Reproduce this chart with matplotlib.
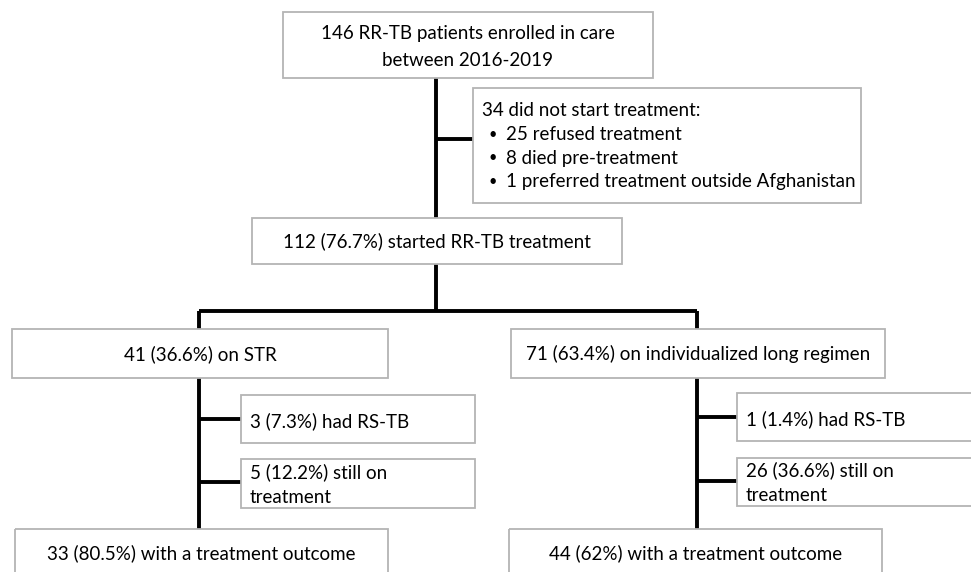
import matplotlib.pyplot as plt
from matplotlib.patches import Rectangle

# texts of the flowchart
top_text = "146 RR-TB patients enrolled in care\nbetween 2016-2019"
excl_head = "34 did not start treatment:"
excl_items = ["25 refused treatment", "8 died pre-treatment",
              "1 preferred treatment outside Afghanistan"]
started_text = "112 (76.7%) started RR-TB treatment"
arm_texts = ["41 (36.6%) on STR", "71 (63.4%) on individualized long regimen"]
rs_texts = ["3 (7.3%) had RS-TB", "1 (1.4%) had RS-TB"]
still_texts = ["5 (12.2%) still on\ntreatment", "26 (36.6%) still on\ntreatment"]
outcome_texts = ["33 (80.5%) with a treatment outcome", "44 (62%) with a treatment outcome"]

W, H = 971, 572
fig = plt.figure(figsize=(W / 100, H / 100), dpi=100)
ax = fig.add_axes([0, 0, 1, 1])
ax.set_xlim(0, W)
ax.set_ylim(H, 0)
ax.axis('off')

FONT = 'Lato'
FS = 13.5
EDGE = '#b4b4b4'
LW = 2.8


def box(x0, y0, x1, y1):
    ax.add_patch(Rectangle((x0, y0), x1 - x0, y1 - y0, fill=False,
                           edgecolor=EDGE, linewidth=1.3, zorder=2))


def line(xs, ys):
    ax.plot(xs, ys, color='black', linewidth=LW, solid_capstyle='butt', zorder=1)


# top box
box(283, 12, 653, 78)
ax.text(468, 47, top_text, ha='center', va='center', fontsize=FS, family=FONT,
        linespacing=1.75)

# main vertical
line([436, 436], [78, 218])

# exclusion box
line([436, 473], [139, 139])
box(473, 88, 861, 203)
ax.text(482, 111, excl_head, ha='left', va='center', fontsize=FS, family=FONT)
for i, item in enumerate(excl_items):
    yy = 135 + i * 23.5
    ax.text(488, yy, "•", ha='left', va='center', fontsize=FS - 3, family=FONT)
    ax.text(506, yy, item, ha='left', va='center', fontsize=FS, family=FONT)

# started box
box(252, 218, 622, 264)
ax.text(437, 241, started_text, ha='center', va='center', fontsize=FS, family=FONT)

# split
line([436, 436], [264, 311])
arm_x = [199, 697]
line([arm_x[0], arm_x[1]], [311, 311])
for x in arm_x:
    line([x, x], [311, 329])

arm_boxes = [(12, 388), (511, 885)]
sub_x = [(241, 475), (737, 972)]
rs_y = [(395, 443), (393, 441)]
still_y = [(459, 508), (458, 506)]

for k in range(2):
    x0, x1 = arm_boxes[k]
    box(x0, 329, x1, 378)
    ax.text((x0 + x1) / 2, 354, arm_texts[k], ha='center', va='center',
            fontsize=FS, family=FONT)

    x = arm_x[k]
    line([x, x], [378, 529])

    s0, s1 = sub_x[k]
    r0, r1 = rs_y[k]
    line([x, s0], [(r0 + r1) / 2, (r0 + r1) / 2])
    box(s0, r0, s1, r1)
    ax.text(s0 + 9, (r0 + r1) / 2 + 2, rs_texts[k], ha='left', va='center',
            fontsize=FS, family=FONT)

    t0, t1 = still_y[k]
    line([x, s0], [t0 + 23, t0 + 23])
    box(s0, t0, s1, t1)
    ax.text(s0 + 9, (t0 + t1) / 2 + 1, still_texts[k], ha='left', va='center',
            fontsize=FS, family=FONT, linespacing=1.55)

    b0, b1 = (15, 388) if k == 0 else (509, 882)
    box(b0, 529, b1, 590)
    ax.text((b0 + b1) / 2, 553, outcome_texts[k], ha='center', va='center',
            fontsize=FS, family=FONT)

fig.savefig('out.png', dpi=100)
